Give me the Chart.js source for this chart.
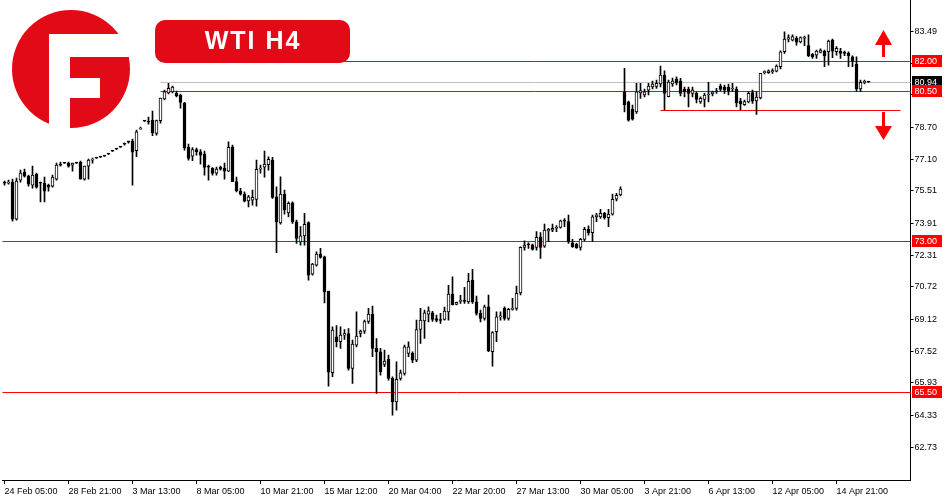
<!DOCTYPE html>
<html><head><meta charset="utf-8">
<script src="https://cdn.jsdelivr.net/npm/chart.js@4.4.0/dist/chart.umd.min.js"></script>
<style>html,body{margin:0;padding:0;background:#fff;}#wrap{width:950px;height:500px;}</style>
</head><body><div id="wrap"><canvas id="c" width="950" height="500"></canvas></div>
<script>
// ---- data ----
const tickLabels = ["24 Feb 05:00","28 Feb 21:00","3 Mar 13:00","8 Mar 05:00","10 Mar 21:00","15 Mar 12:00","20 Mar 04:00","22 Mar 20:00","27 Mar 13:00","30 Mar 05:00","3 Apr 21:00","6 Apr 13:00","12 Apr 05:00","14 Apr 21:00"];
const barsPerTick = 16;
const yTickValues = [83.49,81.89,80.30,78.70,77.10,75.51,73.91,72.31,70.72,69.12,67.52,65.93,64.33,62.73];

const opens = [75.95,75.9,75.96,74.11,76.05,76.45,76.25,75.8,76.35,75.9,
75.9,75.8,75.75,76.1,76.85,76.9,76.9,76.8,76.9,76.95,
76.1,76.75,77.05,77.15,77.2,77.25,77.35,77.5,77.6,77.7,
77.85,77.95,78.0,77.52,78.6,79.0,79.0,79.05,78.38,79.02,
80.1,80.4,80.45,80.4,80.3,79.9,77.69,77.25,77.58,77.47,
77.35,76.7,76.64,76.4,76.7,76.65,76.5,77.72,75.98,75.5,
75.35,75.02,75.05,75.09,76.6,76.7,76.82,77.05,75.22,73.92,
75.35,74.42,74.92,73.97,72.97,73.27,73.93,71.36,71.81,72.36,
72.23,70.52,66.44,68.23,67.99,68.32,68.4,66.66,67.82,68.4,
68.52,69.0,69.37,67.66,67.49,66.86,67.11,66.16,64.99,66.16,
66.41,67.41,67.41,67.07,68.6,69.03,69.37,69.43,69.15,69.05,
69.1,69.48,70.37,69.85,70.0,70.05,69.98,71.07,69.98,69.4,
69.15,69.73,67.49,68.49,69.23,69.65,69.15,69.6,69.65,70.43,
72.7,72.82,72.82,72.7,73.22,72.76,73.52,73.55,73.65,73.69,
74.0,73.98,72.93,72.85,72.7,73.1,73.6,73.43,74.22,74.22,
74.39,74.18,74.36,75.1,75.31,80.46,79.96,79.6,79.46,80.4,
80.3,80.54,80.7,80.73,80.85,81.3,80.22,80.85,81.09,81.0,
80.58,80.58,80.38,80.38,79.96,80.08,80.3,80.35,80.46,80.74,
80.7,80.7,80.6,80.58,80.0,79.82,79.96,80.42,80.0,80.16,
81.42,81.42,81.45,81.49,81.71,82.46,83.09,83.04,83.13,82.95,
83.13,82.76,82.33,82.29,82.43,82.49,82.46,83.04,82.46,82.49,
82.38,82.38,82.21,81.83,80.60,80.93,80.94];

const highs = [76.0,76.05,76.10,76.15,76.55,76.6,76.3,76.75,76.4,75.95,
76.2,75.85,76.3,76.9,76.95,76.92,76.95,76.9,76.92,77.0,
76.75,77.1,77.15,77.17,77.22,77.27,77.37,77.52,77.62,77.72,
77.9,78.0,78.1,78.55,78.7,79.02,79.2,79.5,79.05,80.15,
80.55,80.88,80.75,80.5,80.35,79.93,77.85,77.68,77.65,77.58,
77.5,76.8,76.68,76.7,76.75,76.9,77.96,77.8,76.2,75.64,
75.47,75.3,75.56,77.05,76.8,77.5,77.22,77.19,75.72,76.22,
75.56,74.97,74.97,74.06,73.73,74.4,73.97,71.9,72.48,72.65,
72.26,70.52,68.73,68.8,68.73,68.6,68.65,68.07,69.48,68.57,
69.07,69.65,69.77,68.15,67.66,67.57,67.32,66.24,66.99,66.57,
67.82,67.98,67.49,69.07,69.65,69.57,69.73,69.5,69.32,69.4,
69.72,70.8,71.23,69.97,70.3,70.7,71.4,71.6,70.27,69.57,
69.82,70.32,68.49,69.48,69.48,69.73,69.65,70.15,70.77,72.73,
73.02,72.93,72.86,73.48,73.43,73.86,73.65,73.86,73.78,74.06,
74.14,74.31,73.1,72.9,73.15,73.7,73.77,74.31,74.4,74.6,
74.45,74.6,75.36,75.39,75.72,81.63,80.0,79.8,80.88,80.88,
80.6,80.88,81.0,81.04,81.74,81.5,81.04,81.14,81.21,81.13,
80.7,80.7,80.7,80.46,80.21,80.38,80.93,80.5,80.63,80.85,
80.79,80.85,80.88,80.71,80.13,80.05,80.46,80.55,80.46,81.38,
81.5,81.55,81.6,81.8,82.5,83.45,83.3,83.3,83.21,83.2,
83.24,83.3,82.38,82.54,82.6,82.54,83.04,83.09,82.71,82.63,
82.49,82.46,82.26,82.21,81.04,81.04,80.95];

const lows = [75.8,75.85,74.01,74.05,75.95,76.2,75.75,75.65,75.65,74.96,
74.96,75.5,75.7,76.05,76.75,76.88,76.7,76.5,76.88,76.1,
76.05,76.1,76.9,77.13,77.18,77.23,77.33,77.48,77.58,77.68,
77.8,77.9,75.8,77.22,78.6,78.98,78.85,78.27,78.3,78.9,
80.05,80.35,80.4,80.2,79.64,77.55,77.05,77.02,77.3,76.85,
76.3,76.05,76.3,76.3,76.55,76.1,76.47,75.97,75.47,75.3,
74.97,74.72,74.8,74.75,76.4,76.2,76.55,75.14,72.43,73.86,
74.36,74.22,73.89,72.9,72.81,72.81,71.06,71.31,71.76,72.16,
69.93,65.77,66.24,67.73,67.65,68.1,66.57,65.91,67.73,68.23,
68.4,68.9,67.24,65.41,66.32,66.74,66.07,64.33,64.58,66.07,
66.32,67.24,66.94,66.99,67.9,68.15,68.98,69.0,68.98,68.9,
69.07,69.07,69.83,69.83,69.9,69.9,69.9,69.9,69.32,68.98,
69.07,67.49,66.77,67.99,69.07,69.07,69.07,69.57,69.57,70.32,
72.56,72.65,72.56,72.56,72.15,72.7,72.98,73.48,73.48,73.65,
73.73,72.9,72.7,72.65,72.56,73.02,73.31,72.98,73.98,74.14,
74.1,73.73,74.31,75.02,75.26,79.46,79.0,79.05,79.38,80.13,
80.2,80.3,80.6,80.63,80.7,79.55,80.2,80.73,80.8,80.25,
80.2,79.71,80.2,79.91,79.88,79.71,79.96,80.25,80.38,80.5,
80.38,80.3,80.46,79.71,79.55,79.78,79.91,79.88,79.33,80.1,
81.35,81.38,81.38,81.45,81.6,82.38,82.95,83.0,82.79,82.9,
82.76,82.21,82.13,82.13,82.4,81.71,81.79,82.16,82.29,82.13,
82.26,81.71,81.71,80.46,80.46,80.85,80.93];

const closes = [75.9,75.95,74.11,76.0,76.40,76.25,75.85,76.3,75.7,75.9,
75.5,75.7,76.2,76.8,76.8,76.9,76.75,76.9,76.9,76.1,
76.75,77.05,77.1,77.15,77.2,77.25,77.35,77.5,77.6,77.7,
77.85,77.95,77.45,78.46,78.65,79.0,78.95,78.42,79.02,80.15,
80.46,80.63,80.7,80.26,79.93,77.67,77.14,77.58,77.47,77.3,
76.69,76.7,76.39,76.6,76.6,76.5,77.69,75.97,75.52,75.35,
75.0,75.22,75.2,76.59,76.65,76.85,77.09,75.19,73.97,75.35,
74.56,74.89,73.97,73.14,73.27,73.85,71.31,71.86,72.36,72.2,
70.48,66.47,68.57,67.99,68.32,68.4,66.66,67.87,68.27,68.52,
69.0,69.37,67.66,67.49,66.49,67.02,66.16,64.99,66.11,66.44,
67.74,67.74,67.07,68.6,69.07,69.43,69.53,69.1,69.05,69.05,
69.52,70.37,69.83,69.95,70.05,70.0,71.0,69.97,69.4,69.15,
69.73,67.54,68.44,69.23,69.25,69.15,69.6,69.65,70.4,72.7,
72.81,72.82,72.6,73.2,72.7,73.56,73.6,73.65,73.7,74.02,
74.0,72.98,72.73,72.68,73.1,73.6,73.43,74.22,74.31,74.39,
74.18,74.35,75.09,75.3,75.6,79.8,79.05,79.1,80.46,80.52,
80.46,80.74,80.85,80.88,81.3,80.38,80.95,81.0,80.9,80.38,
80.46,80.38,80.55,80.08,80.13,80.3,80.35,80.46,80.46,80.58,
80.54,80.5,80.63,79.91,79.85,79.97,80.38,79.99,80.2,81.38,
81.46,81.5,81.52,81.74,82.46,83.09,83.16,83.21,82.93,83.16,
83.16,82.26,82.21,82.49,82.54,82.26,82.99,82.49,82.63,82.38,
82.38,82.26,81.99,80.60,80.93,80.95,80.94];

const resistanceLevels = [82.00, 80.50];
const keyLevels = [73.00, 65.50];
const supportLevel = 79.55;
const currentPrice = 80.94;
const titleText = "WTI H4";

// ---- build ----
const totalSlots = 227;
const labels = Array.from({length: totalSlots}, (_, i) => String(i));
const bodies = opens.map((o, i) => [Math.min(o, closes[i]), Math.max(o, closes[i])]);
const wicks = lows.map((l, i) => [l, highs[i]]);
const bodyFill = opens.map((o, i) => closes[i] > o ? '#ffffff' : '#000000');

const RED = '#ff0000';
const BRAND = '#e30a17';
const FONT = "'Liberation Sans', Arial, sans-serif";

const overlay = {
  id: 'overlay',
  beforeDatasetsDraw(chart) {
    const {ctx, chartArea, scales: {x, y}} = chart;
    ctx.save();
    const hline = (price, x0, x1, color) => {
      const py = Math.round(y.getPixelForValue(price)) + 0.5;
      ctx.strokeStyle = color; ctx.lineWidth = 1;
      ctx.beginPath(); ctx.moveTo(x0, py); ctx.lineTo(x1, py); ctx.stroke();
    };
    const startX = x.getPixelForValue(39);
    hline(currentPrice, startX, chartArea.right, '#c0c0c0');
    resistanceLevels.forEach(p => hline(p, startX, chartArea.right, RED));
    keyLevels.forEach(p => hline(p, chartArea.left, chartArea.right, RED));
    hline(supportLevel, x.getPixelForValue(164), x.getPixelForValue(224), RED);
    ctx.restore();
  },
  afterDraw(chart) {
    const {ctx, chartArea, scales: {y}} = chart;
    ctx.save();
    const tag = (price, bg) => {
      const py = Math.round(y.getPixelForValue(price));
      const x0 = chartArea.right + 1.5;
      ctx.fillStyle = bg;
      ctx.fillRect(x0, py - 6, 30, 12);
      ctx.fillStyle = '#fff';
      ctx.font = "9px " + FONT;
      ctx.textAlign = 'left'; ctx.textBaseline = 'middle';
      ctx.fillText(price.toFixed(2), x0 + 2.5, py + 0.5);
    };
    tag(currentPrice, '#000000');
    resistanceLevels.forEach(p => tag(p, RED));
    keyLevels.forEach(p => tag(p, RED));

    // arrows
    ctx.fillStyle = RED;
    const ax = 883.5;
    ctx.beginPath(); ctx.moveTo(ax, 30); ctx.lineTo(ax + 8.5, 45); ctx.lineTo(ax - 8.5, 45); ctx.closePath(); ctx.fill();
    ctx.fillRect(ax - 1.5, 45, 3, 12);
    ctx.fillRect(ax - 1.5, 112, 3, 14);
    ctx.beginPath(); ctx.moveTo(ax - 8.5, 126); ctx.lineTo(ax + 8.5, 126); ctx.lineTo(ax, 140); ctx.closePath(); ctx.fill();

    // logo
    ctx.fillStyle = BRAND;
    ctx.beginPath(); ctx.arc(71, 69, 59, 0, Math.PI * 2); ctx.fill();
    ctx.fillStyle = '#ffffff';
    ctx.fillRect(49, 34, 21, 100);
    ctx.fillRect(49, 34, 90, 23);
    ctx.fillRect(70, 78, 30, 20);

    // title box
    ctx.fillStyle = BRAND;
    ctx.beginPath();
    if (ctx.roundRect) ctx.roundRect(155, 20, 195, 43, 10); else ctx.rect(155, 20, 195, 43);
    ctx.fill();
    ctx.fillStyle = '#ffffff';
    ctx.font = "bold 25px " + FONT;
    try { ctx.letterSpacing = '2px'; } catch (e) {}
    ctx.textAlign = 'center'; ctx.textBaseline = 'middle';
    ctx.fillText(titleText, 253, 42);
    ctx.restore();
  }
};

new Chart(document.getElementById('c'), {
  type: 'bar',
  data: {
    labels: labels,
    datasets: [
      { label: 'wick', data: wicks, backgroundColor: '#000', borderWidth: 0,
        barThickness: 1, grouped: false, order: 2, minBarLength: 1 },
      { label: 'body', data: bodies, backgroundColor: bodyFill, borderColor: '#000',
        borderWidth: 1, borderSkipped: false, barThickness: 3, grouped: false, order: 1, minBarLength: 1 }
    ]
  },
  options: {
    responsive: false,
    animation: false,
    devicePixelRatio: 1,
    layout: { padding: { left: 2.5, right: 0, top: 0, bottom: 0 } },
    plugins: { legend: { display: false }, tooltip: { enabled: false } },
    scales: {
      x: {
        type: 'category',
        offset: true,
        grid: { display: true, drawOnChartArea: false, drawTicks: true, tickLength: 4, color: '#000', offset: false },
        border: { display: true, color: '#000', width: 1 },
        afterBuildTicks: (scale) => {
          scale.ticks = scale.ticks.filter(t => t.value % barsPerTick === 0 && t.value / barsPerTick < tickLabels.length);
        },
        afterFit: (scale) => { scale.height = 20; scale.paddingLeft = 0; scale.paddingRight = 0; },
        ticks: {
          autoSkip: false, maxRotation: 0, minRotation: 0, align: 'start', padding: 2,
          color: '#000', font: { family: FONT, size: 9 },
          callback: (v) => tickLabels[v / barsPerTick] || ''
        }
      },
      y: {
        position: 'right',
        min: 61.09, max: 85.04,
        grid: { display: true, drawOnChartArea: false, drawTicks: true, tickLength: 3, color: '#000' },
        border: { display: true, color: '#000', width: 1 },
        afterBuildTicks: (scale) => { scale.ticks = yTickValues.map(v => ({ value: v })); },
        afterFit: (scale) => { scale.width = 39.5; scale.paddingTop = 0; scale.paddingBottom = 0; },
        ticks: {
          padding: 1, color: '#000', font: { family: FONT, size: 9 },
          callback: (v) => Number(v).toFixed(2)
        }
      }
    }
  },
  plugins: [overlay]
});
</script>
</body></html>
